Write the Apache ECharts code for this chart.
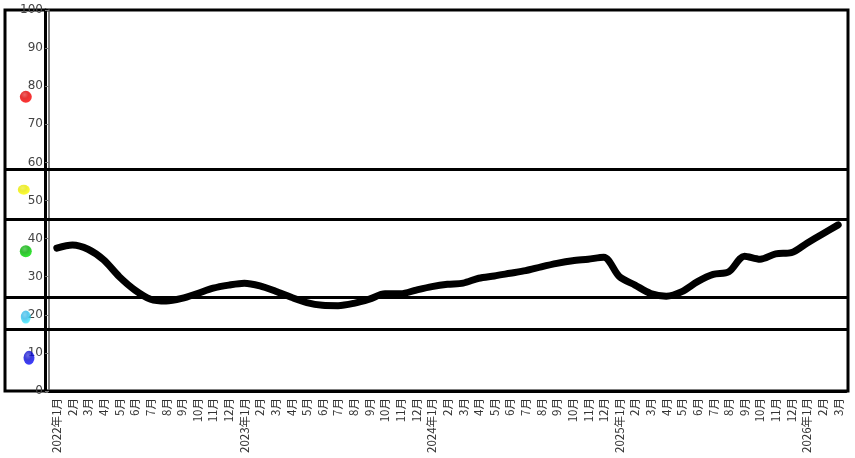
<!DOCTYPE html>
<html>
<head>
<meta charset="utf-8">
<script src="https://cdn.jsdelivr.net/npm/echarts@6/dist/echarts.min.js"></script>
<style>
  html, body { margin: 0; padding: 0; background: #fff; }
  #chart { width: 855px; height: 458px; }
</style>
</head>
<body>
<div id="chart"></div>
<script>
// month labels, 2022年1月 .. 2026年3月
var months = [
	'2022年1月', '2月', '3月', '4月', '5月', '6月', '7月', '8月', '9月', '10月', '11月', '12月',
	'2023年1月', '2月', '3月', '4月', '5月', '6月', '7月', '8月', '9月', '10月', '11月', '12月',
	'2024年1月', '2月', '3月', '4月', '5月', '6月', '7月', '8月', '9月', '10月', '11月', '12月',
	'2025年1月', '2月', '3月', '4月', '5月', '6月', '7月', '8月', '9月', '10月', '11月', '12月',
	'2026年1月', '2月', '3月'
];

// index values
var values = [
	37.5, 38.3, 37.2, 34.4, 30.0, 26.5, 24.1, 23.6, 24.3, 25.6, 27.0, 27.8,
	28.3, 27.6, 26.2, 24.6, 23.2, 22.5, 22.4, 23.0, 24.1, 25.5, 25.5, 26.5,
	27.4, 28.0, 28.3, 29.6, 30.2, 30.9, 31.6, 32.6, 33.5, 34.2, 34.6, 35.1,
	30.0, 27.8, 25.6, 24.9, 26.1, 28.7, 30.6, 31.3, 35.4, 34.6, 36.0, 36.3,
	38.8, 41.2, 43.6
];

// zone boundaries (horizontal bars)
var zoneLines = [58.3, 45.1, 24.6, 16.3];

// zone lamps on the left: level value and colour
var lampLevels = [77.2, 52.8, 36.7, 19.4, 8.7];
var lampColors = ['#e00000', '#e8e800', '#00b000', '#30b8e8', '#0a0ad0'];
var lampX = [0.52, 0.47, 0.52, 0.52, 0.6];

function lampGradient(c) {
	return new echarts.graphic.RadialGradient(0.4, 0.32, 0.7, [
		{ offset: 0, color: echarts.color.lift(c, 0.25) },
		{ offset: 0.45, color: c },
		{ offset: 1, color: echarts.color.lift(c, -0.3) }
	]);
}

var lampSizes = [[12, 12], [12, 10], [12, 12], [10, 13], [11, 14]];

var myChart = echarts.init(document.getElementById('chart'));
var option = {
	backgroundColor: '#fff',
	animation: false,
	grid: [
		{ left: 49, right: 9, top: 10, bottom: 67 },
		{ left: 5, right: 7, top: 10, bottom: 67, show: true, borderColor: '#000', borderWidth: 3, backgroundColor: 'transparent' },
		{ left: 5, width: 40, top: 10, bottom: 67 }
	],
	xAxis: [{
		gridIndex: 0,
		type: 'category',
		data: months,
		axisLine: { lineStyle: { color: '#000', width: 3 } },
		axisTick: { length: 4, lineStyle: { color: '#888' } },
		axisLabel: {
			interval: 0,
			rotate: 90,
			fontSize: 11.5,
			color: '#333',
			margin: 7,
			fontFamily: 'Noto Sans CJK SC'
		}
	}, {
		gridIndex: 1, type: 'value', min: 0, max: 1, show: false
	}, {
		gridIndex: 2, type: 'value', min: 0, max: 1, show: false
	}],
	yAxis: [{
		gridIndex: 0,
		type: 'value',
		min: 0,
		max: 100,
		interval: 10,
		splitLine: { show: false },
		axisLine: { show: true, lineStyle: { color: '#555', width: 1.5 } },
		axisTick: { show: true, length: 4, lineStyle: { color: '#777' } },
		axisLabel: { fontSize: 12, color: '#444', margin: 6, fontFamily: 'DejaVu Sans' }
	}, {
		gridIndex: 1, type: 'value', min: 0, max: 100, show: false
	}, {
		gridIndex: 2,
		type: 'value',
		min: 0,
		max: 100,
		position: 'right',
		splitLine: { show: false },
		axisTick: { show: false },
		axisLabel: { show: false },
		axisLine: { show: true, onZero: false, lineStyle: { color: '#000', width: 3 } }
	}],
	series: [{
		name: 'zones',
		type: 'scatter',
		xAxisIndex: 1,
		yAxisIndex: 1,
		data: [],
		markLine: {
			silent: true,
			symbol: 'none',
			label: { show: false },
			lineStyle: { color: '#000', width: 3, type: 'solid' },
			data: zoneLines.map(function (v) {
				return { yAxis: v };
			})
		}
	}, {
		name: 'lamps',
		type: 'scatter',
		xAxisIndex: 2,
		yAxisIndex: 2,
		data: lampLevels.map(function (v, i) {
			return {
				value: [lampX[i], v],
				symbolSize: lampSizes[i],
				itemStyle: { color: lampGradient(lampColors[i]) }
			};
		})
	}, {
		name: 'index',
		type: 'line',
		xAxisIndex: 0,
		yAxisIndex: 0,
		data: values,
		smooth: 0.3,
		showSymbol: false,
		z: 5,
		lineStyle: { color: '#000', width: 7, cap: 'round', join: 'round' }
	}]
};
myChart.setOption(option);
</script>
</body>
</html>
